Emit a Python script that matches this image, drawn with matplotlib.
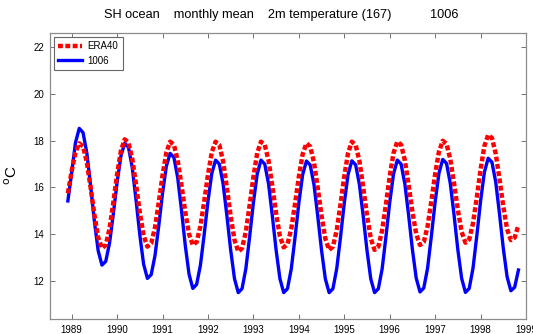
import numpy as np
import matplotlib
matplotlib.use("Agg")
import matplotlib.pyplot as plt

# Monthly values, Dec 1988 .. Nov 1998 (120 months)
start_year = 1988 + 11 / 12
era40 = [
    15.75, 16.70, 17.50, 17.89, 17.76, 17.08, 16.00, 14.83, 13.86, 13.39, 13.53, 14.23,
    15.35, 16.57, 17.57, 18.06, 17.92, 17.23, 16.13, 14.93, 13.94, 13.46, 13.60, 14.27,
    15.35, 16.52, 17.49, 17.96, 17.83, 17.16, 16.10, 14.95, 14.00, 13.53, 13.66, 14.33,
    15.39, 16.54, 17.50, 17.96, 17.82, 17.11, 15.98, 14.76, 13.75, 13.25, 13.39, 14.10,
    15.23, 16.45, 17.47, 17.96, 17.82, 17.15, 16.06, 14.88, 13.91, 13.43, 13.56, 14.23,
    15.30, 16.46, 17.42, 17.89, 17.75, 17.07, 15.97, 14.78, 13.80, 13.32, 13.46, 14.16,
    15.27, 16.48, 17.47, 17.96, 17.82, 17.13, 16.01, 14.81, 13.81, 13.32, 13.46, 14.16,
    15.27, 16.48, 17.47, 17.96, 17.83, 17.16, 16.10, 14.95, 14.00, 13.53, 13.66, 14.33,
    15.41, 16.57, 17.53, 18.00, 17.87, 17.21, 16.16, 15.03, 14.09, 13.63, 13.77, 14.46,
    15.57, 16.77, 17.77, 18.25, 18.12, 17.44, 16.36, 15.18, 14.21, 13.74, 13.85, 14.39,
]
run1006 = [
    15.42, 16.63, 17.91, 18.53, 18.35, 17.48, 16.07, 14.55, 13.29, 12.67, 12.83, 13.61,
    14.86, 16.22, 17.34, 17.89, 17.72, 16.85, 15.46, 13.96, 12.71, 12.10, 12.26, 13.07,
    14.35, 15.75, 16.90, 17.46, 17.29, 16.42, 15.03, 13.52, 12.28, 11.67, 11.84, 12.66,
    13.98, 15.41, 16.59, 17.17, 17.00, 16.15, 14.78, 13.31, 12.09, 11.49, 11.66, 12.51,
    13.88, 15.35, 16.57, 17.17, 17.00, 16.15, 14.78, 13.31, 12.09, 11.49, 11.66, 12.51,
    13.86, 15.33, 16.54, 17.13, 16.96, 16.12, 14.76, 13.30, 12.08, 11.49, 11.66, 12.51,
    13.86, 15.33, 16.55, 17.14, 16.97, 16.12, 14.77, 13.30, 12.08, 11.49, 11.66, 12.51,
    13.88, 15.35, 16.57, 17.17, 17.00, 16.15, 14.80, 13.33, 12.11, 11.52, 11.69, 12.54,
    13.91, 15.38, 16.60, 17.20, 17.03, 16.17, 14.81, 13.32, 12.10, 11.50, 11.67, 12.54,
    13.92, 15.41, 16.65, 17.25, 17.08, 16.23, 14.86, 13.39, 12.17, 11.57, 11.72, 12.46,
]
xticks = list(range(1989, 2000))
yticks = [12, 14, 16, 18, 20, 22]
title = "SH ocean    monthly mean    2m temperature (167)           1006"

plt.rcParams['font.family'] = ['Liberation Sans', 'DejaVu Sans']

t = start_year + np.arange(len(era40)) / 12

fig = plt.figure(figsize=(5.33, 3.34), dpi=100)
ax = fig.add_axes([0.0932, 0.0449, 0.8937, 0.8572])

ax.plot(t, era40, color='#ff0000', lw=3.2, linestyle=(0, (1.1, 0.55)),
        dash_capstyle='butt', label='ERA40', zorder=3)
ax.plot(t, run1006, color='#0000ff', lw=2.4, label='1006', zorder=2)

ax.set_xlim(1988.516, 1998.985)
ax.set_ylim(10.36, 22.63)
ax.set_xticks(xticks)
ax.set_xticklabels([str(x) for x in xticks])
ax.set_yticks(yticks)
ax.tick_params(direction='in', length=3.5, width=0.7, colors='0.45',
               labelcolor='black', labelsize=7, top=True, right=True, pad=4)
for s in ax.spines.values():
    s.set_color('0.55')
    s.set_linewidth(0.9)

ax.set_ylabel('$^{\\mathrm{o}}$C', fontsize=11)
ax.yaxis.set_label_coords(-0.062, 0.503)
fig.text(0.528, 0.955, title, ha='center', va='center', fontsize=9.2)

leg = ax.legend(loc='upper left', fontsize=7, handlelength=2.4, handletextpad=0.6,
                borderpad=0.45, labelspacing=0.45, fancybox=False, framealpha=1,
                edgecolor='0.4', bbox_to_anchor=(0.003, 0.995), borderaxespad=0.3)
leg.get_frame().set_linewidth(0.8)

fig.savefig('out.png', dpi=100)
